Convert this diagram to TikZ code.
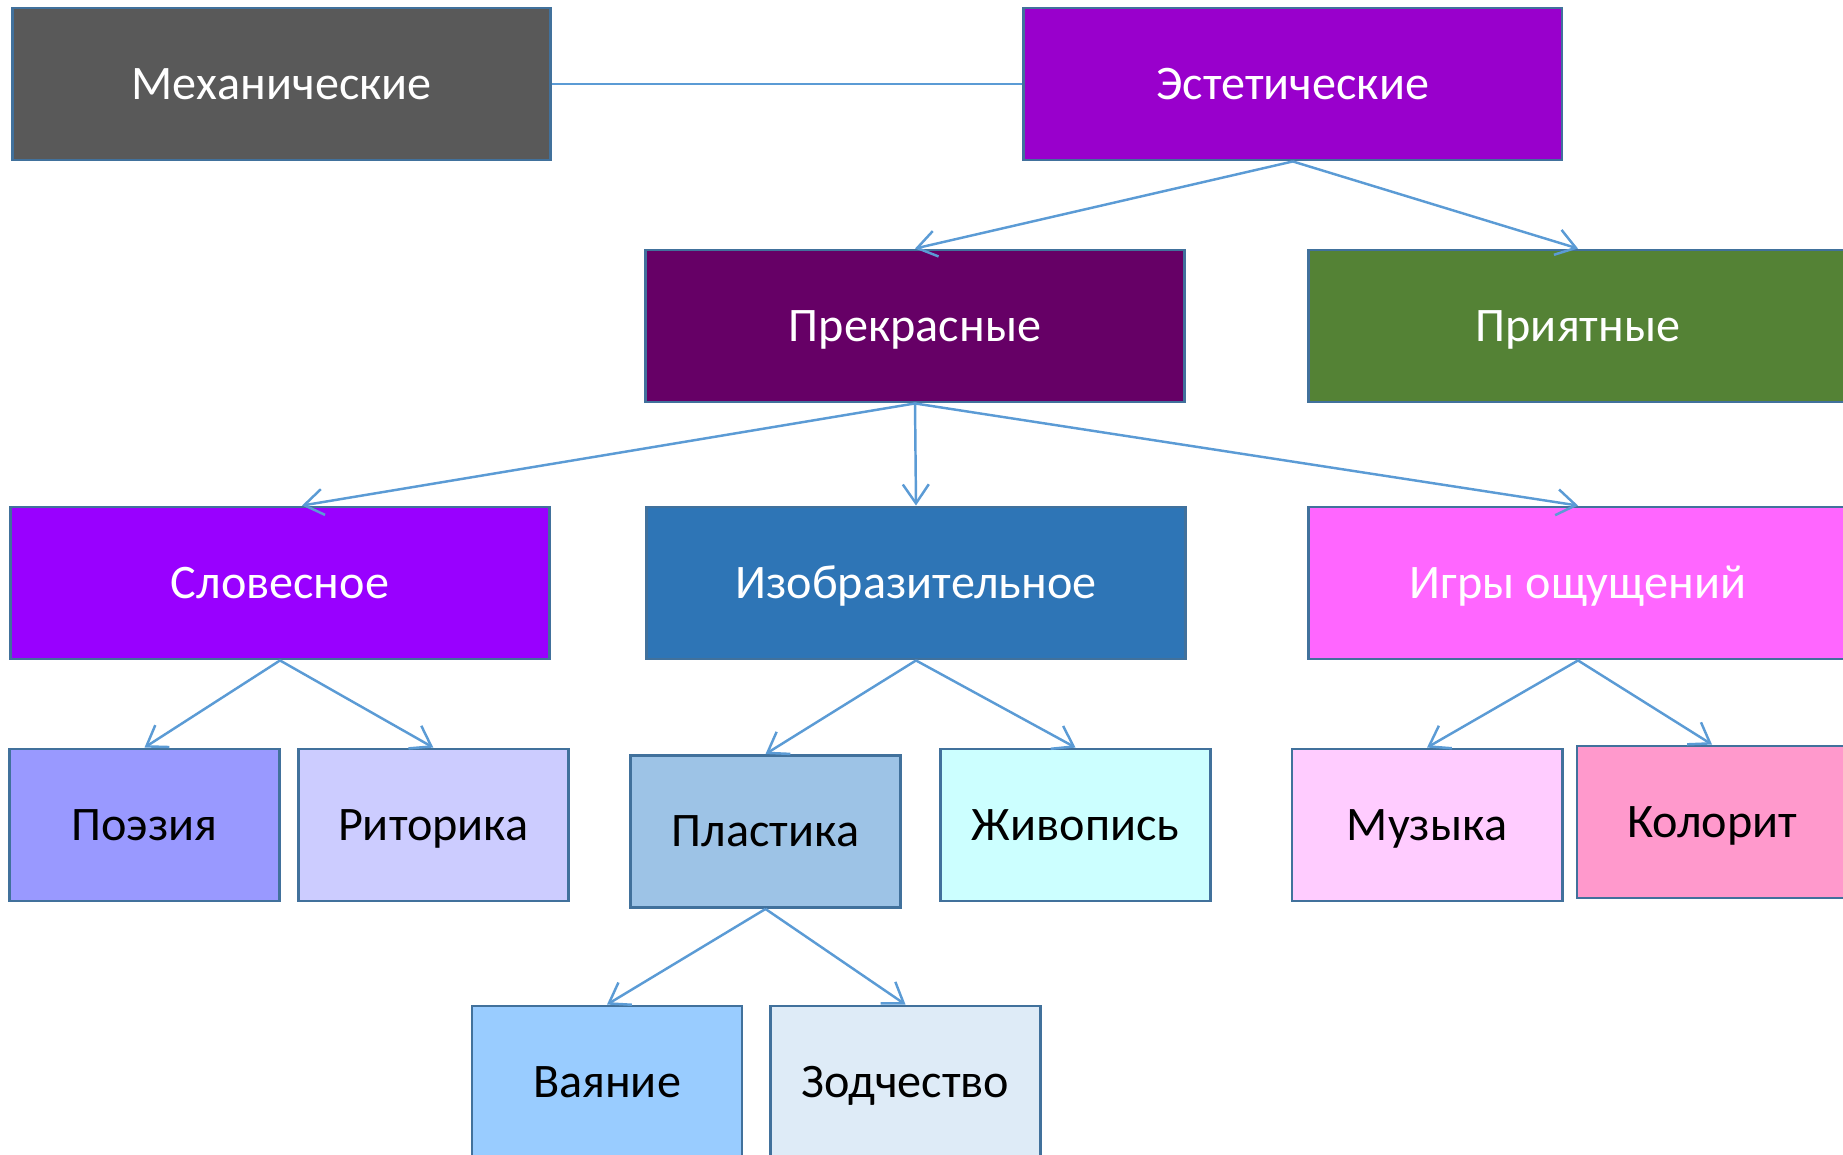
\documentclass[tikz,border=0pt]{standalone}
\usepackage{fontspec}
\setmainfont{Carlito}
\usepackage{tikz}
\usetikzlibrary{arrows.meta}

\definecolor{edgeblue}{HTML}{41719C}
\definecolor{linkblue}{HTML}{5B9BD5}
\definecolor{mechgray}{HTML}{595959}
\definecolor{estviolet}{HTML}{9900CC}
\definecolor{prekrplum}{HTML}{660066}
\definecolor{priyatgreen}{HTML}{548235}
\definecolor{slovviolet}{HTML}{9900FF}
\definecolor{izobrblue}{HTML}{2E75B6}
\definecolor{igrypink}{HTML}{FF66FF}
\definecolor{poezlilac}{HTML}{9999FF}
\definecolor{ritorlilac}{HTML}{CCCCFF}
\definecolor{plastblue}{HTML}{9DC3E6}
\definecolor{zhivcyan}{HTML}{CCFFFF}
\definecolor{muzpink}{HTML}{FFCCFF}
\definecolor{kolorpink}{HTML}{FF99CC}
\definecolor{vayanblue}{HTML}{99CCFF}
\definecolor{zodchblue}{HTML}{DEEBF7}

\begin{document}
\begin{tikzpicture}[
  x=0.01cm, y=-0.01cm,
  box/.style={draw=edgeblue, line width=0.8pt, inner sep=0pt,
    minimum width=5.38cm, minimum height=1.52cm,
    text height=8.8pt, text depth=0pt,
    font=\fontsize{13.7}{16}\selectfont, text=white},
  smallbox/.style={box, minimum width=2.70cm, text=black},
  link/.style={linkblue, line width=0.7pt},
  arr/.style={link, -{Straight Barb[length=1.9mm,width=2.6mm]}},
]
  \useasboundingbox (0,0) rectangle (1843,1155);
  \clip (0,0) rectangle (1843,1155);

  % Top row
  \node[box, fill=mechgray] (mech) at (281.7,84) {Механические};
  \node[box, fill=estviolet] (est) at (1292.8,84) {Эстетические};

  % Second row
  \node[box, fill=prekrplum] (prekr) at (915,326) {Прекрасные};
  \node[box, fill=priyatgreen] (priyat) at (1578,326) {Приятные};

  % Third row
  \node[box, fill=slovviolet] (slov) at (280,583) {Словесное};
  \node[box, fill=izobrblue] (izobr) at (916,583) {Изобразительное};
  \node[box, fill=igrypink] (igry) at (1578,583) {Игры ощущений};

  % Fourth row
  \node[smallbox, fill=poezlilac] (poez) at (144.5,825) {Поэзия};
  \node[smallbox, fill=ritorlilac] (ritor) at (433.3,825) {Риторика};
  \node[smallbox, fill=plastblue] (plast) at (765.5,831.5) {Пластика};
  \node[smallbox, fill=zhivcyan] (zhiv) at (1075.5,825) {Живопись};
  \node[smallbox, fill=muzpink] (muz) at (1427,825) {Музыка};
  \node[smallbox, fill=kolorpink] (kolor) at (1712,822) {Колорит};

  % Bottom row
  \node[smallbox, fill=vayanblue] (vayan) at (607,1082) {Ваяние};
  \node[smallbox, fill=zodchblue] (zodch) at (905.5,1082) {Зодчество};

  % Connectors
  \draw[link] (mech.east) -- (est.west);
  \draw[arr] (est.south) -- (prekr.north);
  \draw[arr] (est.south) -- (priyat.north);
  \draw[arr] (prekr.south) -- ([xshift=0.22cm]slov.north);
  \draw[arr] (prekr.south) -- (izobr.north);
  \draw[arr] (prekr.south) -- (igry.north);
  \draw[arr] (slov.south) -- (poez.north);
  \draw[arr] (slov.south) -- (ritor.north);
  \draw[arr] (izobr.south) -- (plast.north);
  \draw[arr] (izobr.south) -- (zhiv.north);
  \draw[arr] (igry.south) -- (muz.north);
  \draw[arr] (igry.south) -- (kolor.north);
  \draw[arr] (plast.south) -- (vayan.north);
  \draw[arr] (plast.south) -- (zodch.north);
\end{tikzpicture}
\end{document}
